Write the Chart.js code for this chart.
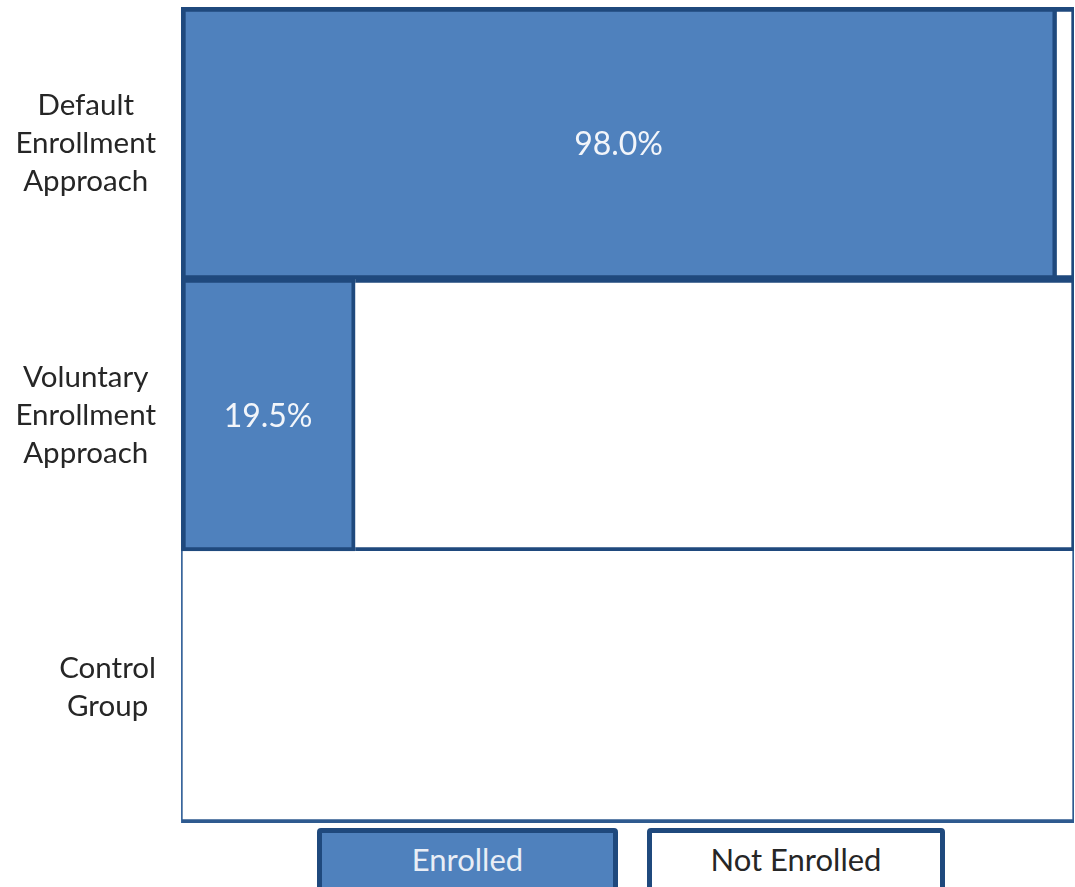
<!DOCTYPE html>
<html>
<head>
<meta charset="utf-8">
<script src="https://cdn.jsdelivr.net/npm/chart.js@4"></script>
<style>
  html, body { margin: 0; padding: 0; background: #ffffff; overflow: hidden; }
  #wrap { position: relative; width: 1075px; height: 887px; }
  .lg { position: absolute; box-sizing: border-box; border: 5px solid #1F497D; border-radius: 4px;
        font-family: Lato, "Open Sans", sans-serif; font-size: 31px; text-align: center; line-height: 52px; }
</style>
</head>
<body>
<div id="wrap">
  <canvas id="c" width="1075" height="887"></canvas>
  <div class="lg" id="lg1" style="left:317px; top:828px; width:301px; height:80px; background:#4F81BD; color:#E9EEF6;"></div>
  <div class="lg" id="lg2" style="left:647px; top:828px; width:298px; height:80px; background:#FFFFFF; color:#262626;"></div>
</div>
<script>
const categories = [["Default", "Enrollment", "Approach"], ["Voluntary", "Enrollment", "Approach"], ["Control", "Group"]];
const seriesNames = ["Enrolled", "Not Enrolled"];
const enrolled = [98.0, 19.5, 0];
const notEnrolled = [2.0, 80.5, 100];

document.getElementById('lg1').textContent = seriesNames[0];
document.getElementById('lg2').textContent = seriesNames[1];

const FONT = 'Lato, "Open Sans", sans-serif';
const DARK = '#1F497D';

const categoryLabels = {
  id: 'categoryLabels',
  afterDraw(chart) {
    const ctx = chart.ctx;
    const y = chart.scales.y;
    ctx.save();
    ctx.font = '29.5px ' + FONT;
    ctx.fillStyle = '#262626';
    ctx.textBaseline = 'middle';
    ctx.textAlign = 'center';
    const rightEdge = 156, lh = 38;
    categories.forEach((lines, i) => {
      const cy = y.getPixelForValue(i);
      const maxW = Math.max(...lines.map(l => ctx.measureText(l).width));
      const cx = rightEdge - maxW / 2;
      const y0 = cy - (lines.length - 1) * lh / 2;
      lines.forEach((l, j) => ctx.fillText(l, cx, y0 + j * lh));
    });
    ctx.restore();
  }
};

const valueLabels = {
  id: 'valueLabels',
  afterDatasetsDraw(chart) {
    const ctx = chart.ctx;
    const meta = chart.getDatasetMeta(0);
    ctx.save();
    ctx.font = '32px ' + FONT;
    ctx.fillStyle = '#F2F5FA';
    ctx.textAlign = 'center';
    ctx.textBaseline = 'middle';
    meta.data.forEach((el, i) => {
      const v = enrolled[i];
      if (v > 0) {
        ctx.fillText(v.toFixed(1) + '%', (el.x + el.base) / 2, el.y + 2);
      }
    });
    ctx.restore();
  }
};

new Chart(document.getElementById('c'), {
  type: 'bar',
  data: {
    labels: categories.map(c => c.join(' ')),
    datasets: [
      {
        label: seriesNames[0],
        data: enrolled,
        backgroundColor: '#4F81BD',
        borderColor: DARK,
        borderSkipped: false,
        borderWidth: [
          {top: 5, right: 4, bottom: 4, left: 5},
          {top: 4, right: 4, bottom: 4, left: 5},
          0
        ],
        barPercentage: 1,
        categoryPercentage: 1
      },
      {
        label: seriesNames[1],
        data: notEnrolled,
        backgroundColor: '#FFFFFF',
        borderColor: [DARK, DARK, '#2E5A8F'],
        borderSkipped: false,
        borderWidth: [
          {top: 5, right: 3, bottom: 4, left: 1},
          {top: 4, right: 3, bottom: 4, left: 0},
          {top: 0, right: 2, bottom: 4, left: 2}
        ],
        barPercentage: 1,
        categoryPercentage: 1
      }
    ]
  },
  options: {
    indexAxis: 'y',
    responsive: false,
    animation: false,
    layout: { padding: { top: 7, right: 1, bottom: 64, left: 0 } },
    plugins: { legend: { display: false }, tooltip: { enabled: false } },
    scales: {
      x: { stacked: true, display: false, min: 0, max: 100 },
      y: {
        stacked: true,
        grid: { display: false },
        border: { display: false },
        ticks: { display: false },
        afterFit(scale) { scale.width = 181; }
      }
    }
  },
  plugins: [categoryLabels, valueLabels]
});
</script>
</body>
</html>
